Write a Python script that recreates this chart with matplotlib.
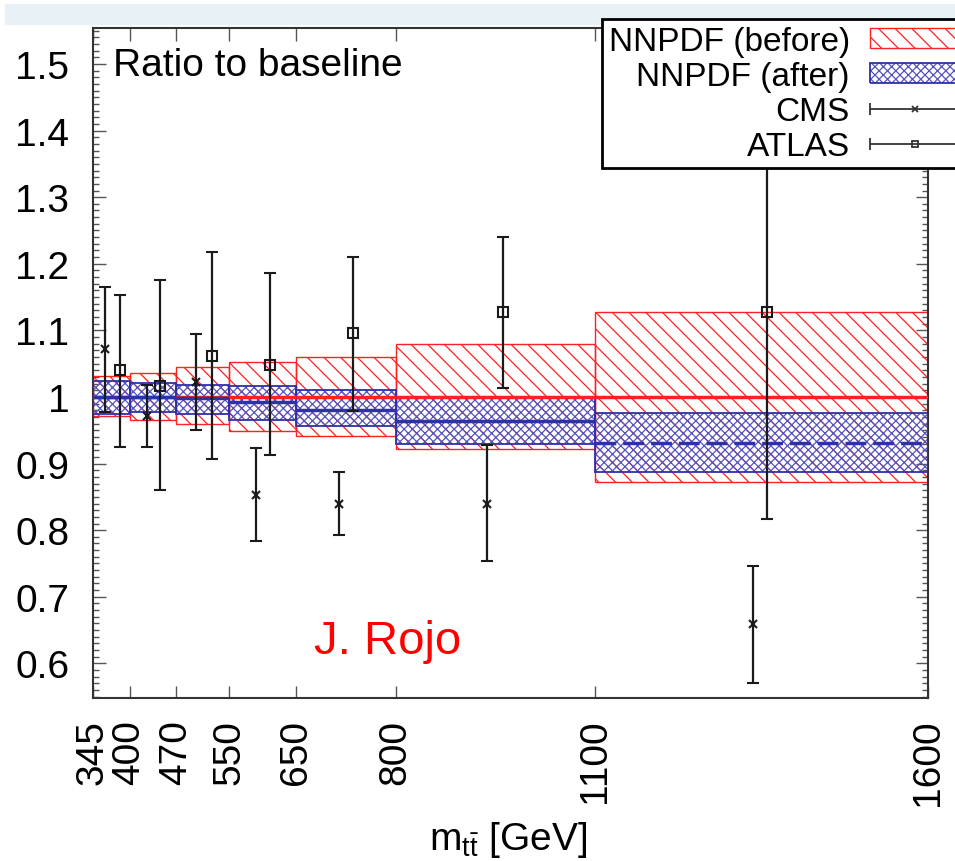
import numpy as np
import matplotlib
matplotlib.use('Agg')
import matplotlib.pyplot as plt
from matplotlib.ticker import MultipleLocator, FixedLocator, FuncFormatter
from matplotlib.legend_handler import HandlerErrorbar, HandlerTuple
from matplotlib.container import ErrorbarContainer
from matplotlib.patches import Patch, Rectangle

# bin edges in m_tt [GeV]
edges = np.array([345, 400, 470, 550, 650, 800, 1100, 1600])

# NNPDF before (red) / after (blue) bands, per bin
red_lo = np.array([0.971, 0.965, 0.959, 0.949, 0.941, 0.922, 0.873])
red_hi = np.array([1.032, 1.036, 1.045, 1.052, 1.060, 1.080, 1.127])
red_c  = np.array([1.0, 1.0, 1.0, 1.0, 1.0, 1.0, 1.0])
blue_lo = np.array([0.974, 0.977, 0.975, 0.966, 0.957, 0.929, 0.887])
blue_hi = np.array([1.024, 1.021, 1.018, 1.016, 1.011, 1.000, 0.976])
blue_c  = np.array([1.000, 1.000, 0.998, 0.992, 0.981, 0.964, 0.931])

# CMS points
cms_x  = np.array([363, 426, 500, 590, 715, 937, 1337])
cms_y  = np.array([1.072, 0.971, 1.023, 0.853, 0.840, 0.839, 0.659])
cms_lo = np.array([0.977, 0.925, 0.950, 0.783, 0.792, 0.753, 0.571])
cms_hi = np.array([1.165, 1.018, 1.095, 0.923, 0.887, 0.928, 0.746])

# ATLAS points
atl_x  = np.array([386, 446, 524, 611, 736, 961, 1358])
atl_y  = np.array([1.041, 1.017, 1.062, 1.048, 1.096, 1.128, 1.127])
atl_lo = np.array([0.925, 0.860, 0.907, 0.913, 0.979, 1.013, 0.817])
atl_hi = np.array([1.153, 1.175, 1.218, 1.186, 1.210, 1.240, 1.437])

yticks = [0.6, 0.7, 0.8, 0.9, 1.0, 1.1, 1.2, 1.3, 1.4, 1.5]

plt.rcParams['font.family'] = ['Liberation Sans', 'DejaVu Sans']
plt.rcParams['mathtext.fontset'] = 'custom'
plt.rcParams['mathtext.rm'] = 'Liberation Sans'
plt.rcParams['mathtext.it'] = 'Liberation Sans:italic'
plt.rcParams['hatch.linewidth'] = 0.9

W, H = 955, 862
fig = plt.figure(figsize=(W / 100, H / 100), dpi=100)
fig.patches.append(Rectangle((5 / W, 1 - 25 / H), 950 / W, 20 / H, transform=fig.transFigure,
                             color='#e8f1f5', zorder=0))
ax = fig.add_axes([93 / W, 1 - 699 / H, 835 / W, 670 / H])

widths = np.diff(edges)
red_col = '#ff2020'
blue_col = '#3030a8'
blue_hatch = '#5454bc'

ax.bar(edges[:-1], red_hi - red_lo, bottom=red_lo, width=widths, align='edge',
       fill=False, edgecolor=red_col, hatch='\\\\', linewidth=1.0, zorder=2)
# blue band: hatch, then darker outline
ax.bar(edges[:-1], blue_hi - blue_lo, bottom=blue_lo, width=widths, align='edge',
       fill=False, edgecolor=blue_hatch, hatch='xxxx', linewidth=0, zorder=3)
ax.bar(edges[:-1], blue_hi - blue_lo, bottom=blue_lo, width=widths, align='edge',
       fill=False, edgecolor=blue_col, linewidth=1.3, zorder=3)

ax.hlines(red_c, edges[:-1], edges[1:], colors=red_col, linewidth=2.5, zorder=4)
styles = ['solid'] * 6 + [(0, (6, 2))]
ax.hlines(blue_c, edges[:-1], edges[1:], colors=blue_col, linewidth=2.5,
          linestyles=styles, zorder=4)

ax.errorbar(cms_x, cms_y, yerr=[cms_y - cms_lo, cms_hi - cms_y], fmt='x', color='#1a1a1a',
            ms=6, mew=1.5, elinewidth=1.6, capsize=4.5, capthick=1.6, zorder=5)
ax.errorbar(atl_x, atl_y, yerr=[atl_y - atl_lo, atl_hi - atl_y], fmt='s', color='#1a1a1a',
            mfc='none', ms=7, mew=1.5, elinewidth=1.6, capsize=4.5, capthick=1.6, zorder=5)

ax.set_xlim(345, 1600)
ax.set_ylim(0.548, 1.554)

ax.xaxis.set_major_locator(FixedLocator(edges))
ax.xaxis.set_major_formatter(FuncFormatter(lambda v, p: '%d' % v))
ax.yaxis.set_major_locator(FixedLocator(yticks))
ax.yaxis.set_minor_locator(MultipleLocator(0.01))
ax.yaxis.set_major_formatter(FuncFormatter(lambda v, p: '%g' % round(v, 2)))
ax.tick_params(axis='both', which='both', direction='in', top=True, right=True,
               color='#555555', width=1.0, labelsize=28)
ax.tick_params(which='major', length=9)
ax.tick_params(which='minor', length=4.5)
ax.tick_params(axis='x', pad=15, labelrotation=90)
ax.tick_params(axis='y', pad=17)
for s in ax.spines.values():
    s.set_linewidth(1.5)
    s.set_color('#333333')

ax.set_xlabel(r'm$_{\mathrm{t\bar{t}}}$ [GeV]', fontsize=28, va='top')
ax.xaxis.set_label_coords(0.497, -0.18)

ax.text(0.024, 0.945, 'Ratio to baseline', transform=ax.transAxes, fontsize=28,
        ha='left', va='center')
ax.text(0.265, 0.067, 'J. Rojo', transform=ax.transAxes, fontsize=34, color='red',
        ha='left', va='baseline')

# legend proxies
p_red = Patch(facecolor='none', edgecolor=red_col, hatch='\\\\', linewidth=1.0)
p_blue_h = Patch(facecolor='none', edgecolor=blue_hatch, hatch='xxxx', linewidth=0)
p_blue_o = Patch(facecolor='none', edgecolor=blue_col, linewidth=1.3)
h_cms = ax.errorbar([np.nan], [np.nan], xerr=[1.0], fmt='x', color='#333333', ms=5, mew=1.3,
                    elinewidth=1.3, capsize=4, capthick=1.3)
h_atl = ax.errorbar([np.nan], [np.nan], xerr=[1.0], fmt='s', color='#333333', mfc='none', ms=5,
                    mew=1.3, elinewidth=1.3, capsize=4, capthick=1.3)

leg = fig.legend([p_red, (p_blue_h, p_blue_o), h_cms, h_atl],
                 ['NNPDF (before)', 'NNPDF (after)', 'CMS', 'ATLAS'],
                 loc='upper left', bbox_to_anchor=(602 / W, 1 - 20 / H),
                 bbox_transform=fig.transFigure, borderaxespad=0, borderpad=0.2,
                 fontsize=24, markerfirst=False, handlelength=2.7, handleheight=0.55,
                 handletextpad=0.6, labelspacing=0.12, numpoints=1, fancybox=False,
                 framealpha=1, edgecolor='black',
                 handler_map={ErrorbarContainer: HandlerErrorbar(xerr_size=1.35),
                              tuple: HandlerTuple(ndivide=1, pad=0)})
leg.get_frame().set_linewidth(2)

fig.savefig('out.png', dpi=100)
